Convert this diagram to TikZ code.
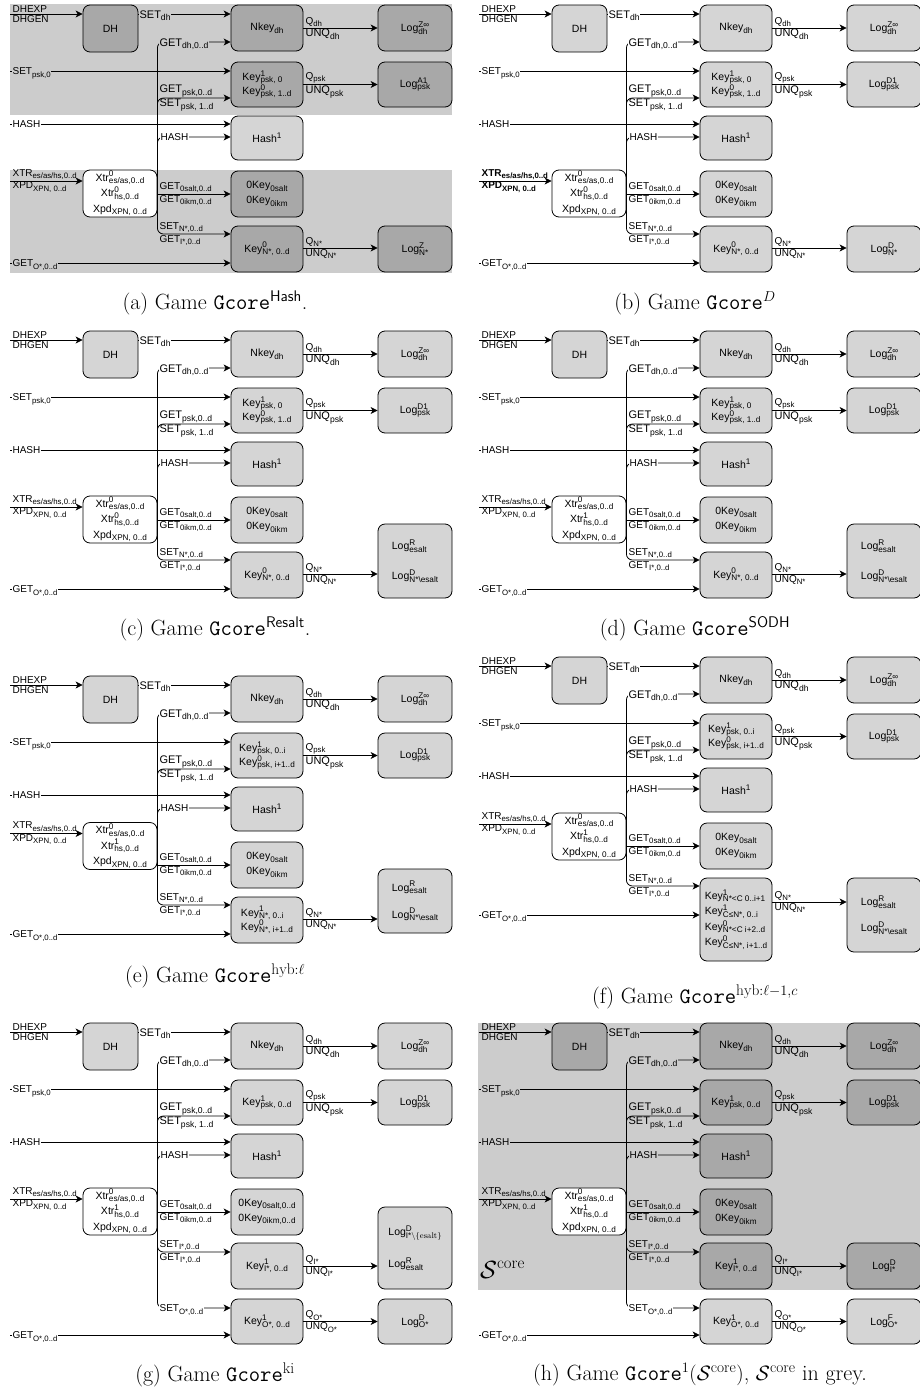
\documentclass[tikz,border=0pt]{standalone}
\usepackage{fontspec}
\usepackage{amsmath}
\usetikzlibrary{arrows.meta}
\newfontfamily\lab{Liberation Sans}
\definecolor{zone}{HTML}{CCCCCC}
\definecolor{boxd}{HTML}{A8A8A8}
\definecolor{boxl}{HTML}{D5D5D5}

% small script text at 78% of the current size
\makeatletter
\newdimen\scrdim
\newcommand\scr[1]{{\scrdim\f@size pt\scrdim0.78\scrdim
  \fontsize{\strip@pt\scrdim}{\strip@pt\scrdim}\selectfont #1}}
\makeatother
% raised and lowered script pieces, stacked when both are present
\newcommand\Lup[1]{\raisebox{0.5em}{#1}}
\newcommand\Ldn[1]{\raisebox{-0.32em}{#1}}
\newcommand\Lstk[2]{\setbox0\hbox{\Lup{#1}}\setbox2\hbox{\Ldn{#2}}%
  \ifdim\wd0>\wd2 \rlap{\box2}\box0\else\rlap{\box0}\box2\fi}
\newcommand\Lsu[3]{\mbox{#1}\scr{\Lstk{#2}{#3}}}
\newcommand\Lsb[2]{\mbox{#1}\scr{\Ldn{#2}}}
\newcommand\Lsp[2]{\mbox{#1}\scr{\Lup{#2}}}

\tikzset{
  gbox/.style={draw, line width=0.8pt, rounded corners=7pt, inner sep=1pt, align=center,
    font={\lab\fontsize{10.5}{13}\selectfont\lineskiplimit-50pt}},
  bw/.style 2 args={minimum width=#1pt, minimum height=#2pt},
  ls/.style={font={\lab\fontsize{10.5}{#1}\selectfont\lineskiplimit-50pt}},
  arr/.style={line width=0.8pt, -{Stealth[length=7pt,width=7pt,inset=2pt]}},
  bus/.style={arr, rounded corners=6pt},
  lblA/.style={inner sep=0.4pt, font=\lab\fontsize{11}{13}\selectfont},
  lblB/.style={inner sep=0.4pt, font=\lab\fontsize{10}{12}\selectfont},
  gcap/.style={inner sep=0pt, anchor=base, font=\fontsize{22}{26}\selectfont},
}

% rows DH, psk, hash and Xtr/0Key of one game
\newcommand\coretop[1]{%
  \coordinate (#1-y1) at (10,9);
  \coordinate (#1-y2) at (0,37);
  \coordinate (#1-y3) at (10,66);
  \coordinate (#1-y4) at (0,93);
  \coordinate (#1-y5) at (10,119);
  \coordinate (#1-y6) at (0,132);
  \coordinate (#1-y7) at (10,\xy-12.5);
  \node[gbox,bw={55}{47},fill=\cA] (#1-dh) at (110.5,23.5) {DH};
  \node[gbox,bw={72}{46},fill=\cA] (#1-nk) at (267,23) {\Lsb{Nkey}{dh}};
  \node[gbox,bw={74}{46},fill=\cA] (#1-ldh) at (415,23) {\Lsu{Log}{Z∞}{dh}};
  \node[gbox,bw={72}{45},fill=\cA,align=left,ls=14] (#1-kp) at (267,79.5) {\kpsk};
  \node[gbox,bw={74}{45},fill=\cA] (#1-lp) at (415,79.5) {\lpsk};
  \node[gbox,bw={72}{44},fill=\cH] (#1-h) at (267,133) {\Lsp{Hash}{1}};
  \node[gbox,bw={74}{47},fill=white,ls=15.5] (#1-x) at (120,\xy)
    {\Lsu{Xtr}{0}{es/as,0..d}\\\Lsu{Xtr}{\xhs}{hs,0..d}\\\Lsb{Xpd}{XPN, 0..d}};
  \node[gbox,bw={72}{46},fill=\cB,align=left,ls=15] (#1-z) at (267,189) {\zk};
  % DH row
  \draw[arr] (#1-y1) -- (#1-dh.west |- #1-y1);
  \node[lblB,anchor=south west] (#1-t1) at (12,8.5) {DHEXP};
  \node[lblB,anchor=north west] (#1-t2) at (12,9.5) {DHGEN};
  \draw[arr] (#1-dh.east |- #1-y1) -- (#1-nk.west |- #1-y1);
  \node[lblA,fill=\fA,anchor=base west] (#1-t3) at (139,13) {\Lsb{SET}{dh}};
  \draw[bus] (#1-x.east) |- (#1-nk.west |- #1-y2);
  \node[lblA,fill=\fA,anchor=base west] (#1-t4) at (159,41) {\Lsb{GET}{dh,0..d}};
  \draw[arr] (#1-nk) -- (#1-ldh);
  \node[lblB,anchor=south west] (#1-t5) at (305,22.5) {\Lsb{Q}{dh}};
  \node[lblA,anchor=north west] (#1-t6) at (305,23.5) {\Lsb{UNQ}{dh}};
  % psk row
  \draw[arr] (#1-y3) -- (#1-kp.west |- #1-y3);
  \node[lblB,fill=\fA,anchor=base west] (#1-t7) at (12,69.6) {\Lsb{SET}{psk,0}};
  \draw[bus] (#1-x.east) |- (#1-kp.west |- #1-y4);
  \node[lblA,anchor=south west] (#1-t8) at (159,92.5) {\Lsb{GET}{psk,0..d}};
  \node[lblA,anchor=north west] (#1-t9) at (159,93.5) {\Lsb{SET}{psk, 1..d}};
  \draw[arr] (#1-kp) -- (#1-lp);
  \node[lblB,anchor=south west] (#1-t10) at (305,79) {\Lsb{Q}{psk}};
  \node[lblA,anchor=north west] (#1-t11) at (305,80) {\Lsb{UNQ}{psk}};
  % hash row
  \draw[arr] (#1-y5) -- (#1-h.west |- #1-y5);
  \node[lblB,fill=\fH,anchor=base west] (#1-t12) at (12,122.6) {HASH};
  \draw[bus] (#1-x.east) |- (#1-h.west |- #1-y6);
  \node[lblB,fill=\fH,anchor=base west] (#1-t13) at (160,135.6) {HASH};
  % extract row
  \draw[arr] (#1-y7) -- (#1-x.west |- #1-y7);
  \node[lblB,anchor=south west] (#1-t14) at (12,\xy-13) {\xf\Lsb{XTR}{es/as/hs,0..d}};
  \node[lblB,anchor=north west] (#1-t15) at (12,\xy-12) {\xf\Lsb{XPD}{XPN, 0..d}};
  \draw[arr] (#1-x.east |- #1-z.west) -- (#1-z.west);
  \node[lblB,anchor=south west] (#1-t16) at (159,188.5) {\Lsb{GET}{0salt,0..d}};
  \node[lblB,anchor=north west] (#1-t17) at (159,189.5) {\Lsb{GET}{0ikm,0..d}};
}

% N* key row: prefix, centre y, height
\newcommand\rowN[3]{%
  \coordinate (#1-y8) at (0,229);
  \coordinate (#1-y9) at (10,258);
  \node[gbox,bw={72}{#3},fill=\cB,align=left,ls=\knls] (#1-kn) at (267,#2) {\kn};
  \draw[bus] (#1-x.east) |- (#1-kn.west |- #1-y8);
  \node[lblB,anchor=south west] (#1-t18) at (159,228.5) {\Lsb{SET}{N*,0..d}};
  \node[lblB,anchor=north west] (#1-t19) at (159,229.5) {\Lsb{GET}{I*,0..d}};
  \draw[arr] (#1-y9) -- (#1-kn.west |- #1-y9);
  \node[lblB,fill=\fB,anchor=base west] (#1-t20) at (12,261.6) {\Lsb{GET}{O*,0..d}};
}

% I* and O* key rows
\newcommand\rowIO[1]{%
  \coordinate (#1-y8) at (0,229);
  \coordinate (#1-y10) at (0,285);
  \coordinate (#1-y11) at (10,312);
  \node[gbox,bw={72}{46},fill=\cB] (#1-ki) at (267,243) {\Lsu{Key}{1}{I*, 0..d}};
  \node[gbox,bw={72}{45},fill=\cO] (#1-ko) at (267,298.5) {\Lsu{Key}{1}{O*, 0..d}};
  \draw[bus] (#1-x.east) |- (#1-ki.west |- #1-y8);
  \node[lblB,anchor=south west] (#1-t18) at (159,228.5) {\Lsb{SET}{I*,0..d}};
  \node[lblB,anchor=north west] (#1-t19) at (159,229.5) {\Lsb{GET}{I*,0..d}};
  \draw[bus] (#1-x.east) |- (#1-ko.west |- #1-y10);
  \node[lblB,fill=\fO,anchor=base west] (#1-t21) at (159,288.6) {\Lsb{SET}{O*,0..d}};
  \draw[arr] (#1-y11) -- (#1-ko.west |- #1-y11);
  \node[lblB,fill=\fO,anchor=base west] (#1-t20) at (12,315.6) {\Lsb{GET}{O*,0..d}};
}

% query arrow: prefix, source, target, y, index
\newcommand\qarrow[5]{%
  \coordinate (#1-#2-qy) at (0,#4);
  \draw[arr] (#1-#2.east |- #1-#2-qy) -- (#1-#3.west |- #1-#2-qy);
  \node[lblB,anchor=south west] (#1-#2-q) at (305,#4-0.5) {\Lsb{Q}{#5}};
  \node[lblB,anchor=north west] (#1-#2-u) at (305,#4+0.5) {\Lsb{UNQ}{#5}};
}

\begin{document}
\begin{tikzpicture}[x=1pt,y=-1pt]
\useasboundingbox (0,0) rectangle (919,1392);
\fill[white] (0,0) rectangle (919,1392);

% defaults shared by the games
\def\cA{boxl}\def\cH{boxl}\def\cB{boxl}\def\cO{boxl}
\def\fA{white}\def\fH{white}\def\fB{white}\def\fO{white}
\def\kpsk{\Lsu{Key}{1}{psk, 0}\\\Lsu{Key}{0}{psk, 1..d}}
\def\lpsk{\Lsu{Log}{D1}{psk}}
\def\xhs{1}\def\xy{188.5}\def\xf{}
\def\zk{\Lsb{0Key}{0salt}\\\Lsb{0Key}{0ikm}}
\def\kn{\Lsu{Key}{0}{N*, 0..d}}\def\knls{14}

% (a) Gcore^Hash
\begin{scope}[shift={(0,5)}]
  \def\cA{boxd}\def\cB{boxd}\def\fA{zone}\def\fB{zone}
  \def\lpsk{\Lsu{Log}{A1}{psk}}\def\xhs{0}
  \fill[zone] (10,-1) rectangle (452,110);
  \fill[zone] (10,165) rectangle (452,268);
  \coretop{a}
  \rowN{a}{244}{46}
  \node[gbox,bw={74}{46},fill=\cB] (a-ln) at (415,244) {\Lsu{Log}{Z}{N*}};
  \qarrow{a}{kn}{ln}{243}{N*}
\end{scope}

% (b) Gcore^D
\begin{scope}[shift={(469,5)}]
  \def\xhs{0}\def\xf{\bfseries}
  \coretop{b}
  \rowN{b}{244}{46}
  \node[gbox,bw={74}{46},fill=\cB] (b-ln) at (415,244) {\Lsu{Log}{D}{N*}};
  \qarrow{b}{kn}{ln}{243}{N*}
\end{scope}

% (c) Gcore^Resalt
\begin{scope}[shift={(0,331)}]
  \def\xhs{0}
  \coretop{c}
  \rowN{c}{244}{46}
  \node[gbox,bw={74}{74},fill=\cB,align=left,ls=30] (c-ln) at (415,230)
    {\Lsu{Log}{R}{esalt}\\\Lsu{Log}{D}{N*\textbackslash esalt}};
  \qarrow{c}{kn}{ln}{243}{N*}
\end{scope}

% (d) Gcore^SODH
\begin{scope}[shift={(469,331)}]
  \coretop{d}
  \rowN{d}{244}{46}
  \node[gbox,bw={74}{74},fill=\cB,align=left,ls=30] (d-ln) at (415,230)
    {\Lsu{Log}{R}{esalt}\\\Lsu{Log}{D}{N*\textbackslash esalt}};
  \qarrow{d}{kn}{ln}{243}{N*}
\end{scope}

% (e) Gcore^hyb:l
\begin{scope}[shift={(0,676)}]
  \def\xy{170}
  \def\kpsk{\Lsu{Key}{1}{psk, 0..i}\\\Lsu{Key}{0}{psk, i+1..d}}
  \def\kn{\Lsu{Key}{1}{N*, 0..i}\\\Lsu{Key}{0}{N*, i+1..d}}
  \coretop{e}
  \rowN{e}{244}{46}
  \node[gbox,bw={74}{64},fill=\cB,align=left,ls=27] (e-ln) at (415,225)
    {\Lsu{Log}{R}{esalt}\\\Lsu{Log}{D}{N*\textbackslash esalt}};
  \qarrow{e}{kn}{ln}{243}{N*}
\end{scope}

% (f) Gcore^hyb:l-1,c
\begin{scope}[shift={(469,657)}]
  \def\xy{179.5}
  \def\kpsk{\Lsu{Key}{1}{psk, 0..i}\\\Lsu{Key}{0}{psk, i+1..d}}
  \def\kn{\Lsu{Key}{1}{N*<C 0..i+1}\\\Lsu{Key}{1}{C≤N*, 0..i}\\
          \Lsu{Key}{0}{N*<C i+2..d}\\\Lsu{Key}{0}{C≤N*, i+1..d}}
  \def\knls{15.5}
  \coretop{f}
  \rowN{f}{262.5}{83}
  \node[gbox,bw={74}{74},fill=\cB,align=left,ls=26] (f-ln) at (415,258)
    {\Lsu{Log}{R}{esalt}\\\Lsu{Log}{D}{N*\textbackslash esalt}};
  \qarrow{f}{kn}{ln}{245}{N*}
\end{scope}

% (g) Gcore^ki
\begin{scope}[shift={(0,1023)}]
  \def\kpsk{\Lsu{Key}{1}{psk, 0..d}}
  \def\zk{\Lsb{0Key}{0salt,0..d}\\\Lsb{0Key}{0ikm,0..d}}
  \coretop{g}
  \rowIO{g}
  \node[gbox,bw={74}{82},fill=\cB,align=left,ls=32] (g-li) at (415,225)
    {\Lsu{Log}{D}{I*$\setminus\{\mathrm{esalt}\}$}\\\Lsu{Log}{R}{esalt}};
  \node[gbox,bw={74}{45},fill=\cO] (g-lo) at (415,298.5) {\Lsu{Log}{D}{O*}};
  \qarrow{g}{ki}{li}{243}{I*}
  \qarrow{g}{ko}{lo}{298.5}{O*}
\end{scope}

% (h) Gcore^1(S^core), the package S^core shaded
\begin{scope}[shift={(469,1023)}]
  \def\cA{boxd}\def\cH{boxd}\def\cB{boxd}
  \def\fA{zone}\def\fH{zone}\def\fB{zone}
  \def\kpsk{\Lsu{Key}{1}{psk, 0..d}}
  \fill[zone] (9,-0.5) rectangle (452,266.5);
  \coretop{h}
  \rowIO{h}
  \node[gbox,bw={74}{46},fill=\cB] (h-li) at (415,243) {\Lsu{Log}{D}{I*}};
  \node[gbox,bw={74}{45},fill=\cO] (h-lo) at (415,298.5) {\Lsu{Log}{F}{O*}};
  \qarrow{h}{ki}{li}{243}{I*}
  \qarrow{h}{ko}{lo}{298.5}{O*}
  \node[inner sep=0pt,anchor=base west,font=\fontsize{24}{28}\selectfont] (h-sc)
    at (11,255) {$\mathcal{S}^{\mathrm{core}}$};
\end{scope}

% captions
\node[gcap] (capa) at (215,309) {(a) Game \texttt{Gcore}$^{\mathsf{Hash}}$.};
\node[gcap] (capb) at (695,309) {(b) Game \texttt{Gcore}$^{D}$};
\node[gcap] (capc) at (215,635) {(c) Game \texttt{Gcore}$^{\mathsf{Resalt}}$.};
\node[gcap] (capd) at (695,635) {(d) Game \texttt{Gcore}$^{\mathsf{SODH}}$};
\node[gcap] (cape) at (215,982) {(e) Game \texttt{Gcore}$^{\mathrm{hyb}:\ell}$};
\node[gcap] (capf) at (695,1003) {(f) Game \texttt{Gcore}$^{\mathrm{hyb}:\ell-1,c}$};
\node[gcap] (capg) at (215,1381) {(g) Game \texttt{Gcore}$^{\mathrm{ki}}$};
\node[gcap] (caph) at (700,1380) {(h) Game \texttt{Gcore}$^1(\mathcal{S}^{\mathrm{core}})$, $\mathcal{S}^{\mathrm{core}}$ in grey.};
\end{tikzpicture}
\end{document}
